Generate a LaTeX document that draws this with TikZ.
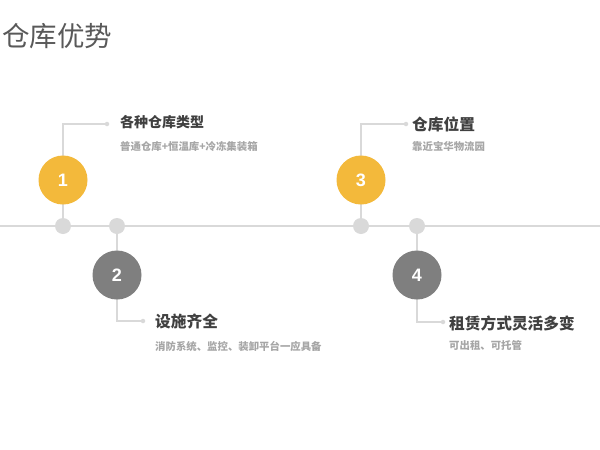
\documentclass[tikz,border=0pt]{standalone}
\usepackage{fontspec}
\newfontfamily\cjk{Noto Sans CJK SC}
\setmainfont{Liberation Sans}
\definecolor{ylw}{HTML}{F3B93B}
\definecolor{gry}{HTML}{7F7F7F}
\definecolor{lgry}{HTML}{D9D9D9}
\definecolor{ttl}{HTML}{404040}
\definecolor{sub}{HTML}{A6A6A6}
\definecolor{head}{HTML}{595959}
\tikzset{
  big/.style={circle,minimum size=49pt,inner sep=0pt,text=white,font=\bfseries\fontsize{18}{18}\selectfont},
  linedot/.style={circle,fill=lgry,minimum size=16pt,inner sep=0pt},
  enddot/.style={circle,fill=lgry,minimum size=4.5pt,inner sep=0pt},
  conn/.style={draw=lgry,line width=1.2pt},
  itemtitle/.style={anchor=west,inner sep=0pt,text=ttl,font=\cjk\bfseries\fontsize{15.7}{15.7}\selectfont},
  itemsub/.style={anchor=west,inner sep=0pt,text=sub,font=\cjk\bfseries\fontsize{10.4}{10.4}\selectfont},
}
\begin{document}
\begin{tikzpicture}[x=1pt,y=-1pt]
\useasboundingbox (0,0) rectangle (600,450);
\fill[white] (0,0) rectangle (600,450);
\node[anchor=west,inner sep=0pt,text=head,font=\cjk\fontsize{27.5}{27.5}\selectfont] (hd) at (2,36) {仓库优势};
% main line
\coordinate (L) at (0,226);
\coordinate (R) at (600,226);
\draw[draw=lgry,line width=2pt] (L) -- (R);
% dots
\node[linedot] (d1) at (63,226) {};
\node[linedot] (d2) at (117,226) {};
\node[linedot] (d3) at (361,226) {};
\node[linedot] (d4) at (417,226) {};
% item 1
\coordinate (c1) at (63,124);
\node[enddot] (e1) at (107,124) {};
\draw[conn] (d1) -- (c1) -- (e1);
\node[big,fill=ylw] (b1) at (63,180) {1};
\node[itemtitle,font=\cjk\bfseries\fontsize{14}{14}\selectfont] (t1) at (120,122) {各种仓库类型};
\node[itemsub] (s1) at (120,146.5) {普通仓库+恒温库+冷冻集装箱};
% item 2
\coordinate (c2) at (117,321);
\node[enddot] (e2) at (143,321) {};
\draw[conn] (d2) -- (c2) -- (e2);
\node[big,fill=gry] (b2) at (117,275) {2};
\node[itemtitle] (t2) at (155,321) {设施齐全};
\node[itemsub] (s2) at (155,346) {消防系统、监控、装卸平台一应具备};
% item 3
\coordinate (c3) at (361,124);
\node[enddot] (e3) at (406,124) {};
\draw[conn] (d3) -- (c3) -- (e3);
\node[big,fill=ylw] (b3) at (361,180) {3};
\node[itemtitle] (t3) at (412,124.5) {仓库位置};
\node[itemsub] (s3) at (412,146.5) {靠近宝华物流园};
% item 4
\coordinate (c4) at (417,322);
\node[enddot] (e4) at (443,322) {};
\draw[conn] (d4) -- (c4) -- (e4);
\node[big,fill=gry] (b4) at (417,275) {4};
\node[itemtitle] (t4) at (449,323) {租赁方式灵活多变};
\node[itemsub] (s4) at (449,345.5) {可出租、可托管};
\end{tikzpicture}
\end{document}
